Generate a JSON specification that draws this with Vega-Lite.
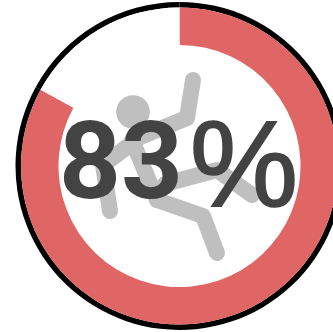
{
  "$schema": "https://vega.github.io/schema/vega-lite/v6.json",
  "width": 333,
  "height": 332,
  "padding": 0,
  "autosize": {"type": "none"},
  "background": "white",
  "view": {"stroke": null},
  "config": {"axis": {"domain": false, "ticks": false, "labels": false, "grid": false, "title": null}},
  "datasets": {
    "share": [
      {"part": "falls", "pct": 83},
      {"part": "rest", "pct": 17}
    ],
    "figure": [
      {"limb": "arms", "step": 1, "px": 193, "py": 80},
      {"limb": "arms", "step": 2, "px": 187, "py": 118},
      {"limb": "arms", "step": 3, "px": 140, "py": 137},
      {"limb": "arms", "step": 4, "px": 103, "py": 165},
      {"limb": "arms", "step": 5, "px": 110, "py": 211},
      {"limb": "torso", "step": 1, "px": 132, "py": 140},
      {"limb": "torso", "step": 2, "px": 157, "py": 200},
      {"limb": "leg1", "step": 1, "px": 157, "py": 200},
      {"limb": "leg1", "step": 2, "px": 203, "py": 216},
      {"limb": "leg1", "step": 3, "px": 217, "py": 253},
      {"limb": "leg2", "step": 1, "px": 165, "py": 184},
      {"limb": "leg2", "step": 2, "px": 217, "py": 170},
      {"limb": "leg2", "step": 3, "px": 252, "py": 195}
    ],
    "head": [{"px": 133, "py": 112}],
    "number": [{"label": "83", "px": 121, "py": 198}],
    "sign": [{"label": "%", "px": 244, "py": 206}]
  },
  "layer": [
    {
      "data": {"name": "share"},
      "mark": {"type": "arc", "outerRadius": 164, "innerRadius": 158.5, "color": "#000000"},
      "encoding": {
        "theta": {"field": "pct", "type": "quantitative", "stack": true},
        "x": {"datum": 179.5, "type": "quantitative", "scale": {"domain": [0, 333], "range": [0, 333]}, "axis": null},
        "y": {"datum": 166, "type": "quantitative", "scale": {"domain": [0, 332], "range": [0, 332]}, "axis": null}
      }
    },
    {
      "data": {"name": "share"},
      "mark": {"type": "arc", "outerRadius": 158.5, "innerRadius": 121},
      "encoding": {
        "theta": {"field": "pct", "type": "quantitative", "stack": true},
        "order": {"field": "pct", "sort": "descending"},
        "color": {"field": "part", "type": "nominal", "legend": null, "scale": {"domain": ["falls", "rest"], "range": ["#e06666", "#ffffff"]}},
        "x": {"datum": 179.5, "type": "quantitative", "scale": {"domain": [0, 333], "range": [0, 333]}, "axis": null},
        "y": {"datum": 166, "type": "quantitative", "scale": {"domain": [0, 332], "range": [0, 332]}, "axis": null}
      }
    },
    {
      "data": {"name": "figure"},
      "mark": {"type": "line", "strokeWidth": 16, "strokeCap": "round", "strokeJoin": "round", "color": "#bfbfbf"},
      "encoding": {
        "x": {"field": "px", "type": "quantitative", "scale": {"domain": [0, 333], "range": [0, 333]}, "axis": null},
        "y": {"field": "py", "type": "quantitative", "scale": {"domain": [0, 332], "range": [0, 332]}, "axis": null},
        "detail": {"field": "limb"},
        "order": {"field": "step"}
      }
    },
    {
      "data": {"name": "head"},
      "mark": {"type": "circle", "size": 1134, "color": "#bfbfbf", "opacity": 1},
      "encoding": {
        "x": {"field": "px", "type": "quantitative", "scale": {"domain": [0, 333], "range": [0, 333]}, "axis": null},
        "y": {"field": "py", "type": "quantitative", "scale": {"domain": [0, 332], "range": [0, 332]}, "axis": null}
      }
    },
    {
      "data": {"name": "number"},
      "mark": {"type": "text", "font": "Roboto", "fontWeight": "bold", "fontSize": 108, "color": "#434343", "align": "center", "baseline": "alphabetic"},
      "encoding": {
        "text": {"field": "label"},
        "x": {"field": "px", "type": "quantitative", "scale": {"domain": [0, 333], "range": [0, 333]}, "axis": null},
        "y": {"field": "py", "type": "quantitative", "scale": {"domain": [0, 332], "range": [0, 332]}, "axis": null}
      }
    },
    {
      "data": {"name": "sign"},
      "mark": {"type": "text", "font": "Liberation Sans", "fontSize": 122, "color": "#434343", "stroke": "#434343", "strokeWidth": 1.6, "align": "center", "baseline": "alphabetic"},
      "encoding": {
        "text": {"field": "label"},
        "x": {"field": "px", "type": "quantitative", "scale": {"domain": [0, 333], "range": [0, 333]}, "axis": null},
        "y": {"field": "py", "type": "quantitative", "scale": {"domain": [0, 332], "range": [0, 332]}, "axis": null}
      }
    }
  ]
}
